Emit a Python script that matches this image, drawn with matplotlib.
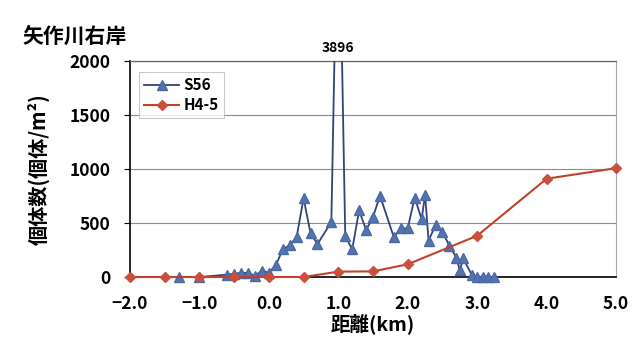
import matplotlib
matplotlib.use("Agg")
import matplotlib.pyplot as plt
import numpy as np

plt.rcParams['font.family'] = ['Noto Sans CJK JP', 'DejaVu Sans']
plt.rcParams['font.weight'] = 'bold'

# S56 survey: distance (km) and density (individuals/m2)
s56_x = [-1.3, -1.0, -0.6, -0.5, -0.4, -0.3, -0.2, -0.1, 0.0, 0.1, 0.2, 0.3, 0.4,
         0.5, 0.6, 0.7, 0.9, 1.0, 1.1, 1.2, 1.3, 1.4, 1.5, 1.6, 1.8, 1.9, 2.0,
         2.1, 2.2, 2.25, 2.3, 2.4, 2.5, 2.6, 2.7, 2.75, 2.8, 2.92, 3.0, 3.08,
         3.16, 3.24]
s56_y = [0, 0, 22, 30, 38, 38, 10, 60, 40, 110, 255, 295, 370,
         730, 405, 305, 510, 3896, 380, 255, 616, 435, 555, 754, 368, 450, 450,
         736, 535, 762, 337, 480, 417, 290, 180, 64, 172, 22, 0, 0,
         0, 0]

# H4-5 survey
h45_x = [-2.0, -1.5, -1.0, -0.5, 0.0, 0.5, 1.0, 1.5, 2.0, 3.0, 4.0, 5.0]
h45_y = [0, 0, 0, 0, 0, 0, 50, 52, 118, 382, 910, 1008]

x_ticks = [-2.0, -1.0, 0.0, 1.0, 2.0, 3.0, 4.0, 5.0]
y_ticks = [0, 500, 1000, 1500, 2000]
y_max = 2000
peak_label = "3896"

s56_col_line = '#34427a'
s56_col_mark = '#5474b0'
h45_col = '#c4402a'

fig = plt.figure(figsize=(6.36, 3.42), dpi=100)
ax = fig.add_axes([0.2044, 0.19, 0.7642, 0.6316])

# S56: line clipped to the frame, markers kept whole along the baseline
sx = np.array(s56_x)
sy = np.array(s56_y, dtype=float)
ax.plot(sx, sy, color=s56_col_line, lw=1.3, zorder=3)
on_scale = sy <= y_max
ax.plot(sx[on_scale], sy[on_scale], ls='none', marker='^', ms=6.5,
        markerfacecolor=s56_col_mark, markeredgecolor='#4a68a5',
        clip_on=False, zorder=3)

ax.plot(h45_x, h45_y, color=h45_col, lw=1.5, marker='D', ms=5,
        markerfacecolor='#c8503c', markeredgecolor='#c8503c',
        clip_on=False, zorder=4)

# legend proxies
ax.plot([], [], color=s56_col_line, lw=1.3, marker='^', ms=6.5,
        markerfacecolor=s56_col_mark, markeredgecolor='#4a68a5', label='S56')
ax.plot([], [], color=h45_col, lw=1.5, marker='D', ms=5,
        markerfacecolor='#c8503c', markeredgecolor='#c8503c', label='H4-5')

ax.set_xlim(-2.0, 5.0)
ax.set_ylim(0, y_max)
ax.set_xticks(x_ticks)
ax.set_xticklabels([f"{v:.1f}".replace('-', '\u2212') for v in x_ticks])
ax.set_yticks(y_ticks)
ax.set_yticklabels([str(v) for v in y_ticks])

ax.tick_params(axis='x', length=0, pad=13, labelsize=12.5)
ax.tick_params(axis='y', length=4, direction='out', pad=10, labelsize=12.5)

ax.yaxis.grid(True, color='#8c8c8c', lw=0.8)
ax.set_axisbelow(True)

for side in ('left', 'bottom'):
    ax.spines[side].set_color('black')
    ax.spines[side].set_linewidth(1.2)
ax.spines['top'].set_color('#666666')
ax.spines['top'].set_linewidth(0.9)
ax.spines['right'].set_color('#aaaaaa')
ax.spines['right'].set_linewidth(0.8)

# Off-scale peak value written above the frame
peak_i = int(np.argmax(sy))
ax.annotate(peak_label, xy=(sx[peak_i], y_max), xytext=(0, 4),
            textcoords='offset points', ha='center', va='bottom',
            fontsize=10, fontweight='bold', annotation_clip=False)

ax.set_xlabel('距離(km)', fontsize=14, fontweight='bold', labelpad=0)
ax.set_ylabel('個体数(個体/m²)', fontsize=14.5, fontweight='bold', labelpad=4)
ax.yaxis.set_label_coords(-0.165, 0.5)

fig.text(0.035, 0.895, '矢作川右岸', fontsize=15, fontweight='bold',
         ha='left', va='center')

leg = ax.legend(loc='upper left', bbox_to_anchor=(0.018, 0.95), fontsize=11,
                frameon=True, fancybox=False, edgecolor='#bbbbbb',
                handlelength=2.3, borderpad=0.35, labelspacing=0.25,
                handletextpad=0.3, borderaxespad=0)
leg.get_frame().set_linewidth(0.8)

fig.savefig('out.png', dpi=100)
